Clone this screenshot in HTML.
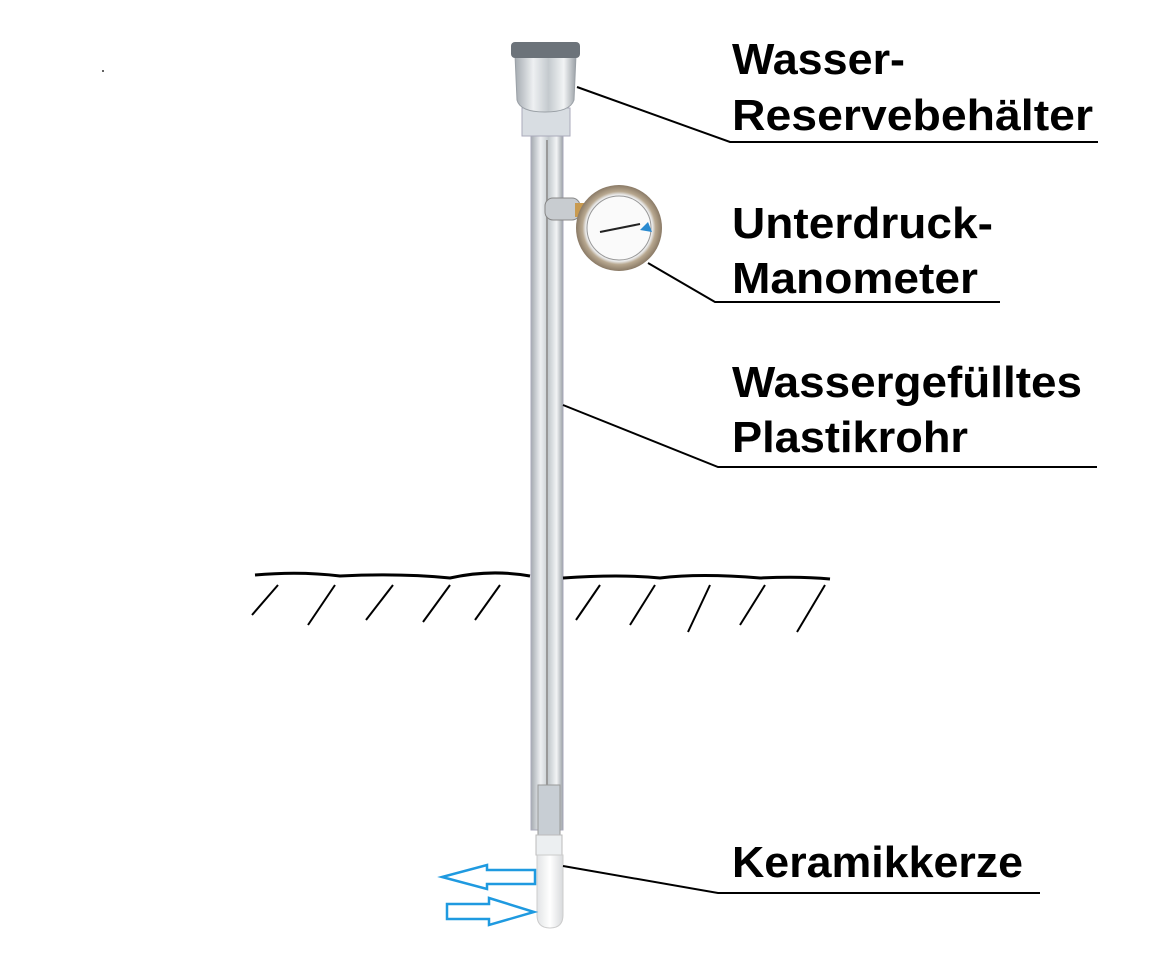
<!DOCTYPE html>
<html><head><style>body{margin:0;background:#fff}svg{display:block}</style></head><body>
<svg width="1152" height="961" viewBox="0 0 1152 961" xmlns="http://www.w3.org/2000/svg">
<defs>
<linearGradient id="tube" x1="0" x2="1"><stop offset="0" stop-color="#a4aab0"/><stop offset=".3" stop-color="#eef0f2"/><stop offset=".55" stop-color="#c4cace"/><stop offset=".8" stop-color="#f2f4f5"/><stop offset="1" stop-color="#9aa0a6"/></linearGradient>
<linearGradient id="cer" x1="0" x2="1"><stop offset="0" stop-color="#e2e4e6"/><stop offset=".5" stop-color="#fff"/><stop offset="1" stop-color="#d8dadc"/></linearGradient>
<radialGradient id="gg"><stop offset=".7" stop-color="#fff"/><stop offset=".78" stop-color="#e8e8e8"/><stop offset=".85" stop-color="#b8a890"/><stop offset="1" stop-color="#8a7a66"/></radialGradient>
</defs>
<circle cx="103" cy="71" r="1" fill="#333"/>
<rect x="531" y="130" width="32" height="700" fill="url(#tube)" stroke="#aab" stroke-width="1"/>
<line x1="547" y1="140" x2="547" y2="820" stroke="#999" stroke-width="2"/>
<rect x="538" y="785" width="22" height="50" fill="#c8ced4" stroke="#999"/>
<rect x="536" y="835" width="26" height="20" fill="#eceff1" stroke="#bbb"/>
<path d="M537 855 L563 855 L563 915 Q563 928 550 928 Q537 928 537 915 Z" fill="url(#cer)" stroke="#ccc"/>
<rect x="522" y="108" width="48" height="28" fill="#d8dde2" stroke="#aab"/>
<path d="M515 55 L576 55 L574 100 Q570 112 545 112 Q520 112 517 100 Z" fill="url(#tube)" stroke="#9aa0a6"/>
<rect x="511" y="42" width="69" height="16" rx="4" fill="#6c737a"/>
<rect x="545" y="198" width="35" height="22" rx="8" fill="#c8ccd0" stroke="#888"/>
<rect x="575" y="203" width="10" height="14" fill="#c89a50"/>
<circle cx="619" cy="228" r="43" fill="url(#gg)"/>
<circle cx="619" cy="228" r="32" fill="#fafafa" stroke="#999"/>
<line x1="600" y1="232" x2="640" y2="224" stroke="#222" stroke-width="2"/>
<path d="M640 230 l8 -8 l4 10 z" fill="#2a8ad0"/>
<g stroke="#000" stroke-width="2" fill="none">
<polyline points="577,87 730,142 1098,142"/>
<polyline points="648,263 715,302 1000,302"/>
<polyline points="563,405 718,467 1097,467"/>
<polyline points="563,866 718,893 1040,893"/>
</g>
<path d="M255 575 Q300 571 340 576 Q400 573 450 578 Q490 569 530 576 M563 578 Q620 574 660 578 Q700 573 760 578 Q800 576 830 579" stroke="#000" stroke-width="3" fill="none"/>
<g stroke="#000" stroke-width="2">
<line x1="278" y1="585" x2="252" y2="615"/><line x1="335" y1="585" x2="308" y2="625"/><line x1="393" y1="585" x2="366" y2="620"/>
<line x1="450" y1="585" x2="423" y2="622"/><line x1="500" y1="585" x2="475" y2="620"/>
<line x1="600" y1="585" x2="576" y2="620"/><line x1="655" y1="585" x2="630" y2="625"/><line x1="710" y1="585" x2="688" y2="632"/>
<line x1="765" y1="585" x2="740" y2="625"/><line x1="825" y1="585" x2="797" y2="632"/>
</g>
<g stroke="#1f9ae0" stroke-width="2.5" fill="#fff">
<path d="M535 870 L487 870 L487 865 L442 877 L487 889 L487 884 L535 884 Z"/>
<path d="M447 904 L489 904 L489 898 L534 912 L489 925 L489 919 L447 919 Z"/>
</g>
<g font-family="Liberation Sans, sans-serif" font-weight="bold" font-size="44" fill="#000">
<text x="732" y="74" textLength="173" lengthAdjust="spacingAndGlyphs">Wasser-</text>
<text x="732" y="130" textLength="361" lengthAdjust="spacingAndGlyphs">Reservebehälter</text>
<text x="732" y="238" textLength="261" lengthAdjust="spacingAndGlyphs">Unterdruck-</text>
<text x="732" y="293" textLength="246" lengthAdjust="spacingAndGlyphs">Manometer</text>
<text x="732" y="397" textLength="350" lengthAdjust="spacingAndGlyphs">Wassergefülltes</text>
<text x="732" y="452" textLength="236" lengthAdjust="spacingAndGlyphs">Plastikrohr</text>
<text x="732" y="877" textLength="291" lengthAdjust="spacingAndGlyphs">Keramikkerze</text>
</g>
</svg>
</body></html>
